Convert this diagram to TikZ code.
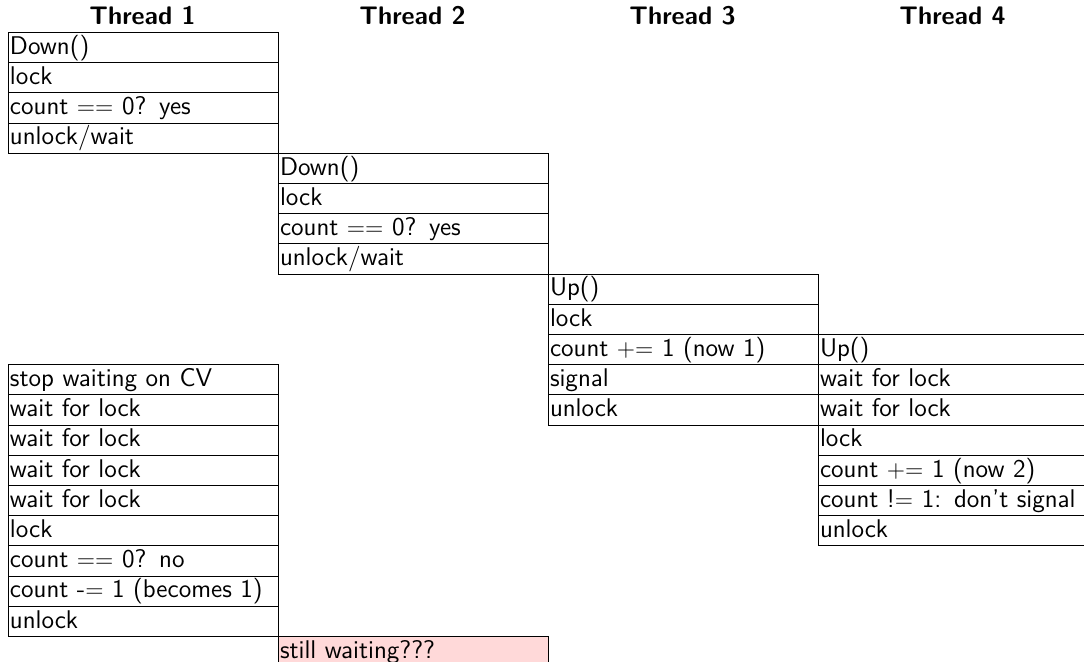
\documentclass[tikz,border=0pt]{standalone}
\begin{document}
\begin{tikzpicture}[x=0.5pt,y=-0.5pt,
  cell/.style={draw=black, line width=0.5pt, anchor=north west, inner xsep=1pt, inner ysep=0pt,
    text width=133pt, align=left, text height=10.9pt, text depth=4.2pt, minimum height=15.1pt,
    font=\sffamily\fontsize{12.8}{14}\selectfont},
  hdr/.style={anchor=base, font=\sffamily\bfseries\fontsize{12.7}{14}\selectfont},
  hot/.style={cell, fill=red!15}]
\useasboundingbox (0,0) rectangle (1084,662);
\clip (0,0) rectangle (1084,662);
% headers
\node[hdr] (h1) at (142.5,25) {Thread 1};
\node[hdr] (h2) at (412.5,25) {Thread 2};
\node[hdr] (h3) at (682.5,25) {Thread 3};
\node[hdr] (h4) at (952.5,25) {Thread 4};
% Thread 1, first block
\foreach \t [count=\k from 0] in {Down(), lock, count $==$ 0? yes, unlock/wait}
  \node[cell] (a\k) at (7.5, 32+30.2*\k) {\t};
% Thread 2
\foreach \t [count=\k from 4] in {Down(), lock, count $==$ 0? yes, unlock/wait}
  \node[cell] (b\k) at (277.5, 32+30.2*\k) {\t};
% Thread 3
\foreach \t [count=\k from 8] in {Up(), lock, count ${+}{=}$ 1 (now 1), signal, unlock}
  \node[cell] (c\k) at (547.5, 32+30.2*\k) {\t};
% Thread 4
\foreach \t [count=\k from 10] in {Up(), wait for lock, wait for lock, lock, count ${+}{=}$ 1 (now 2), count !$=$ 1: don't signal, unlock}
  \node[cell] (d\k) at (817.5, 32+30.2*\k) {\t};
% Thread 1, second block
\foreach \t [count=\k from 11] in {stop waiting on CV, wait for lock, wait for lock, wait for lock, wait for lock, lock, count $==$ 0? no, count -$=$ 1 (becomes 1), unlock}
  \node[cell] (e\k) at (7.5, 32+30.2*\k) {\t};
% Thread 2 still waiting
\node[hot] (b20) at (277.5, 636) {still waiting???};
\end{tikzpicture}
\end{document}
